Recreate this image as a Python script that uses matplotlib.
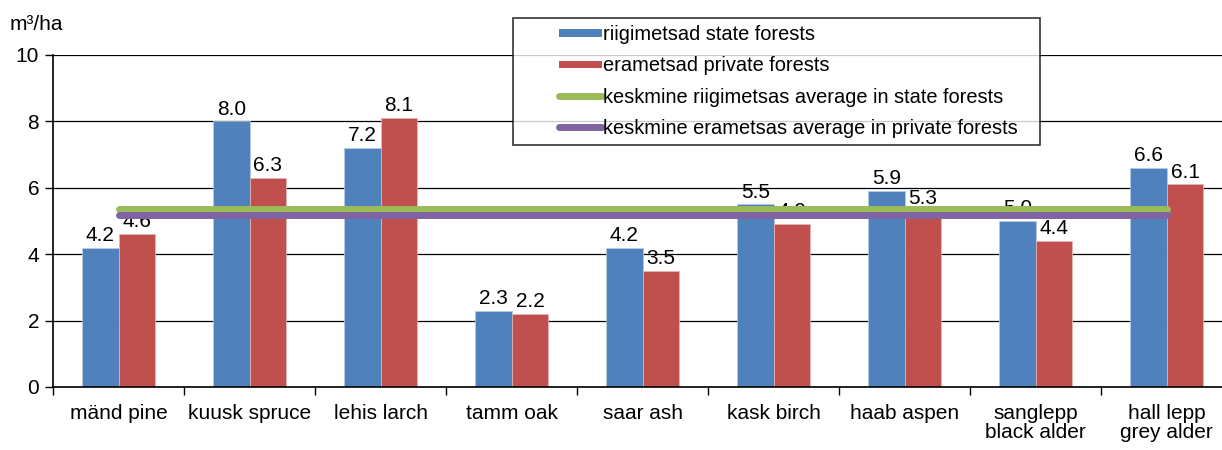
import numpy as np
import matplotlib.pyplot as plt
from matplotlib.patches import Rectangle
from matplotlib.lines import Line2D
from matplotlib.legend_handler import HandlerPatch, HandlerLine2D

plt.rcParams['font.family'] = ['Liberation Sans', 'DejaVu Sans']

categories = ["mänd pine", "kuusk spruce", "lehis larch", "tamm oak", "saar ash",
              "kask birch", "haab aspen", "sanglepp\nblack alder", "hall lepp\ngrey alder"]
state = [4.2, 8.0, 7.2, 2.3, 4.2, 5.5, 5.9, 5.0, 6.6]
private = [4.6, 6.3, 8.1, 2.2, 3.5, 4.9, 5.3, 4.4, 6.1]
avg_state = 5.36
avg_private = 5.18

blue = "#4F81BD"
red = "#C0504D"
green = "#9BBB59"
purple = "#8064A2"

# legend handles sit on the right part of the handle box, like in Excel
class RightPatch(HandlerPatch):
    def __init__(self):
        super().__init__(patch_func=self.make)

    @staticmethod
    def make(legend, orig_handle, xdescent, ydescent, width, height, fontsize):
        h = height * 0.55
        return Rectangle((-xdescent + width * 0.47, -ydescent + (height - h) / 2),
                         width * 0.53, h)


class RightLine(HandlerLine2D):
    def get_xdata(self, legend, xdescent, ydescent, width, height, fontsize):
        xd = np.array([-xdescent + width * 0.47, -xdescent + width])
        return xd, xd


fig = plt.figure(figsize=(12.22, 4.5), dpi=100)
ax = fig.add_axes([0.0434, 0.14, 0.965, 0.738])

x = np.arange(len(categories))
w = 0.28
ax.bar(x - w / 2, state, w, color=blue, edgecolor="#B9CDE5", linewidth=0.5, zorder=2)
ax.bar(x + w / 2, private, w, color=red, edgecolor="#E6B9B8", linewidth=0.5, zorder=2)

for xi, v in zip(x, state):
    ax.annotate(f"{v:.1f}", (xi - w / 2, v), xytext=(0, 2), textcoords="offset points",
                ha="center", va="bottom", fontsize=15)
for xi, v in zip(x, private):
    ax.annotate(f"{v:.1f}", (xi + w / 2, v), xytext=(0, 2), textcoords="offset points",
                ha="center", va="bottom", fontsize=15)

ax.plot(x, [avg_state] * len(x), color=green, lw=5, solid_capstyle="round", zorder=3)
ax.plot(x, [avg_private] * len(x), color=purple, lw=5, solid_capstyle="round", zorder=3)

ax.set_xlim(-0.5, len(categories) - 0.5)
ax.set_ylim(0, 10)
ax.set_yticks([0, 2, 4, 6, 8, 10])
ax.yaxis.grid(True, color="black", lw=0.9, zorder=0)
ax.set_axisbelow(True)
ax.set_xticks(x)
ax.set_xticklabels(categories, fontsize=15, linespacing=1.05)
ax.set_xticks(np.arange(len(categories) + 1) - 0.5, minor=True)
ax.tick_params(axis="x", which="major", length=0, pad=12)
ax.tick_params(axis="x", which="minor", length=6, width=1, direction="out")
ax.tick_params(axis="y", labelsize=15, length=6, width=1, direction="out", pad=4)
for s in ["top", "right"]:
    ax.spines[s].set_visible(False)
ax.spines["left"].set_linewidth(1.2)
ax.spines["bottom"].set_linewidth(1.2)

fig.text(0.008, 0.925, "m³/ha", fontsize=15, ha="left", va="bottom")

handles = [
    Rectangle((0, 0), 1, 1, facecolor=blue),
    Rectangle((0, 0), 1, 1, facecolor=red),
    Line2D([], [], color=green, lw=5, solid_capstyle="round"),
    Line2D([], [], color=purple, lw=5, solid_capstyle="round"),
]
labels = ["riigimetsad state forests", "erametsad private forests",
          "keskmine riigimetsas average in state forests",
          "keskmine erametsas average in private forests"]
leg = fig.legend(handles, labels, loc="upper left",
                 bbox_to_anchor=(0.4198, 0.5, 0.4313, 0.46), mode="expand",
                 fontsize=14.4, frameon=True, fancybox=False, edgecolor="black",
                 handlelength=4.1, handleheight=0.7, handletextpad=0.05, labelspacing=0.62,
                 borderpad=0.35, borderaxespad=0,
                 handler_map={Rectangle: RightPatch(), Line2D: RightLine()})
leg.get_frame().set_linewidth(1.2)

fig.savefig("out.png", dpi=100)
